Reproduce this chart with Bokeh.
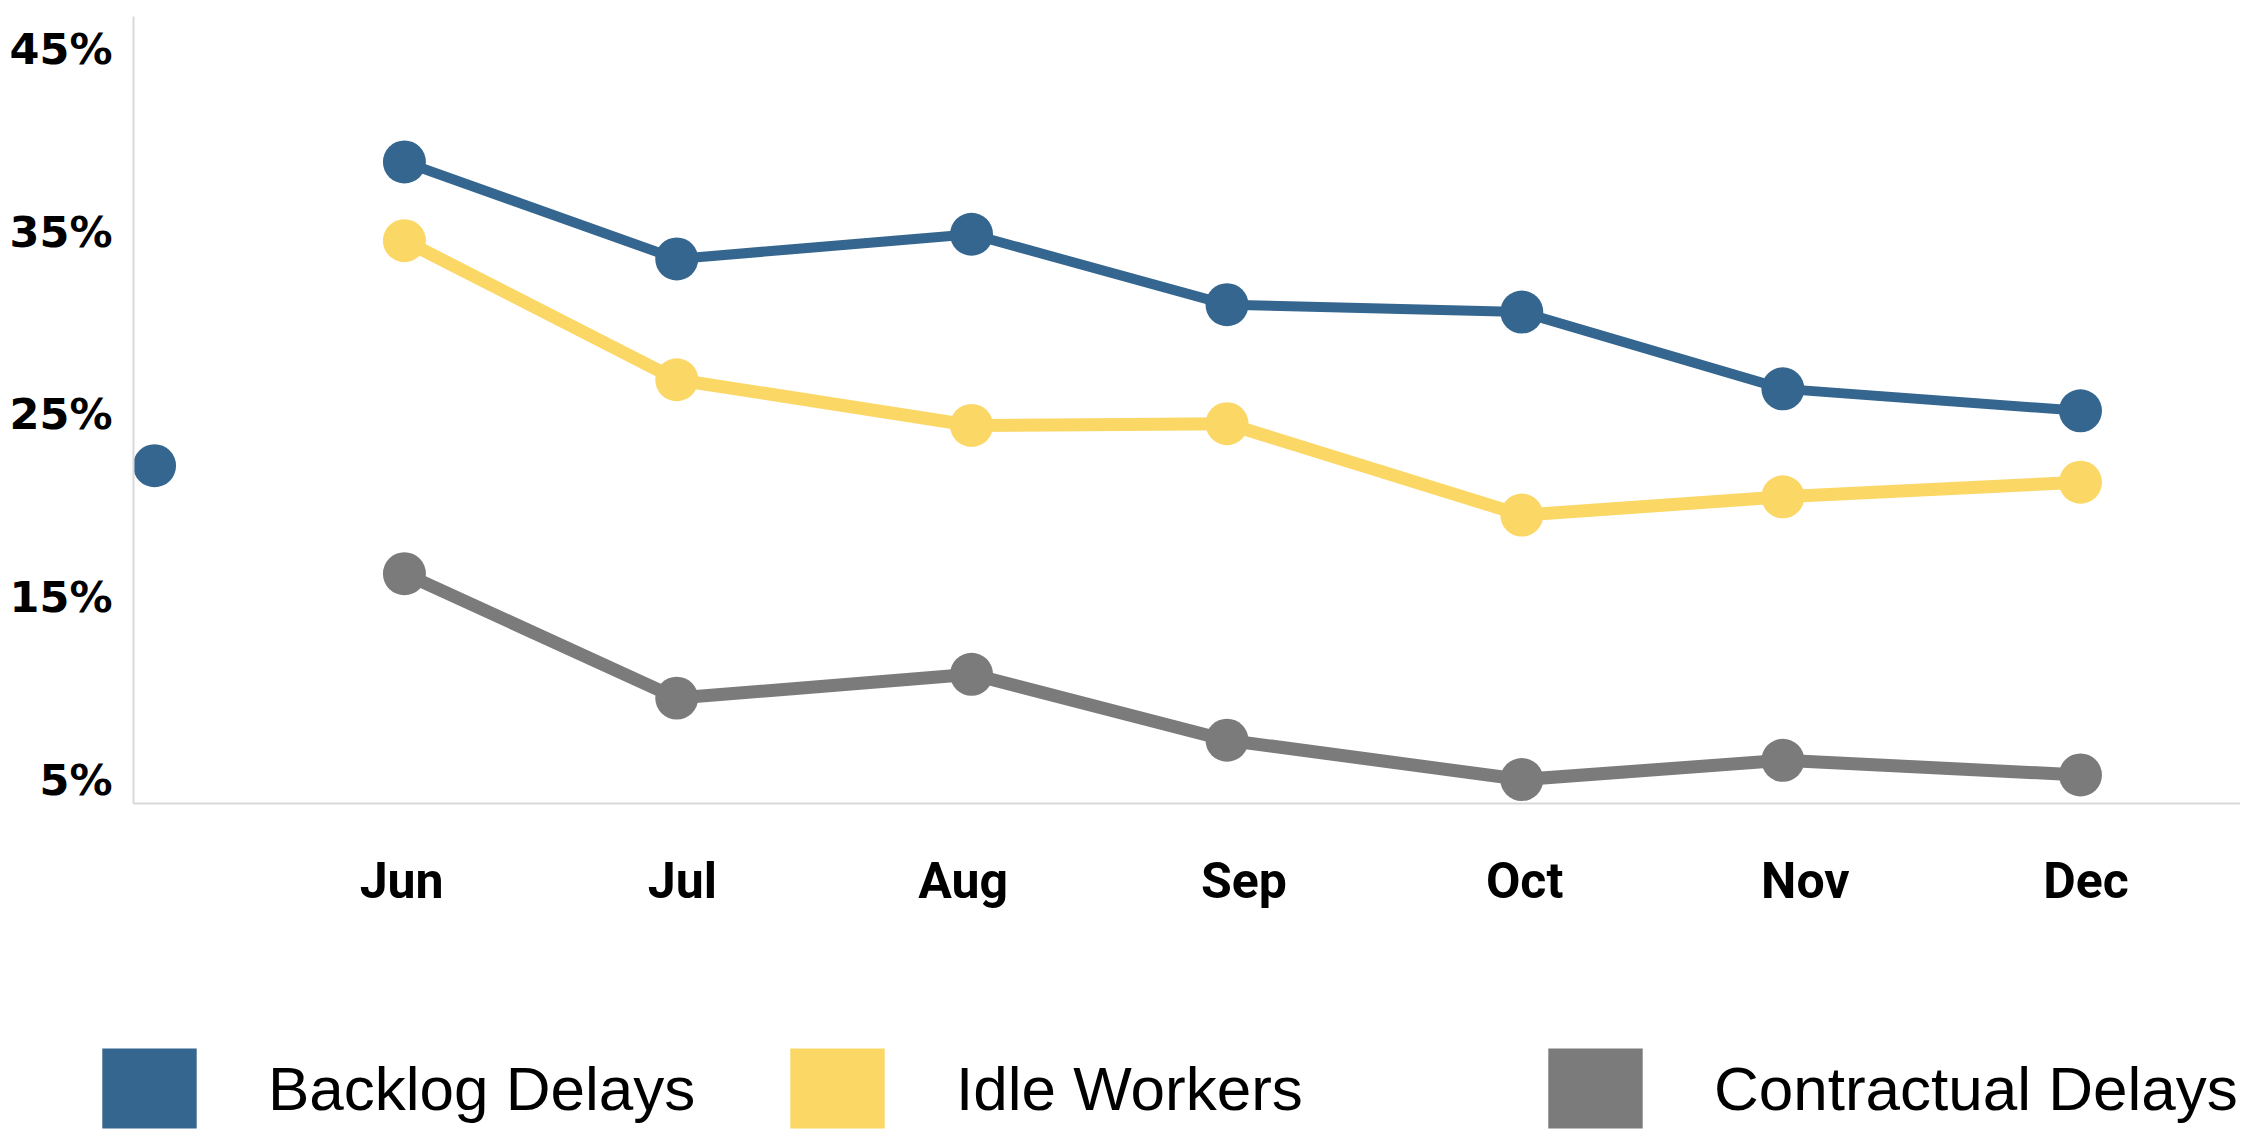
from bokeh.plotting import figure
from bokeh.models import Legend, LegendItem, FixedTicker, Range1d
from bokeh.embed import file_html
from bokeh.resources import INLINE

# ---- data ----
months = ["Jun", "Jul", "Aug", "Sep", "Oct", "Nov", "Dec"]
month_ticks = [0, 1, 2, 3, 4, 5, 6]
# x positions of observations (month units, Jun = 0); first entry is the lone May reading
obs_x = [-0.88, 0.01, 0.98, 2.03, 2.94, 3.99, 4.92, 5.98]
backlog = [22.2, 38.8, 33.5, 34.85, 31.0, 30.6, 26.4, 25.2]
idle_x = [0.01, 0.98, 2.03, 2.94, 3.99, 4.92, 5.98]
idle = [34.5, 26.9, 24.4, 24.5, 19.5, 20.5, 21.3]
contract_x = [0.01, 0.98, 2.03, 2.94, 3.99, 4.92, 5.98]
contract = [16.3, 9.5, 10.8, 7.2, 5.05, 6.1, 5.3]
y_ticks = [5, 15, 25, 35, 45]
y_labels = ["5%", "15%", "25%", "35%", "45%"]
series_names = ["Backlog Delays", "Idle Workers", "Contractual Delays"]

BLUE = "#35668f"
YELLOW = "#fbd766"
GRAY = "#7b7b7b"
AXIS = "#d9d9d9"

W = 2240

p = figure(width=W, height=1000, output_backend="svg", toolbar_location=None,
           x_range=Range1d(-0.955, 6.55), y_range=Range1d(3.74, 46.75),
           min_border_left=133, min_border_right=0, min_border_top=16,
           min_border_bottom=197)
p.outline_line_color = None
p.grid.visible = False

# lines
p.line(obs_x[1:], backlog[1:], line_color=BLUE, line_width=10)
p.line(idle_x, idle, line_color=YELLOW, line_width=13)
p.line(contract_x, contract, line_color=GRAY, line_width=13)
# markers
p.scatter(obs_x, backlog, size=43, fill_color=BLUE, line_color=None)
p.scatter(idle_x, idle, size=43, fill_color=YELLOW, line_color=None)
p.scatter(contract_x, contract, size=43, fill_color=GRAY, line_color=None)

# axes
p.xaxis.ticker = FixedTicker(ticks=month_ticks)
p.xaxis.major_label_overrides = {t: m for t, m in zip(month_ticks, months)}
p.yaxis.ticker = FixedTicker(ticks=y_ticks)
p.yaxis.major_label_overrides = {t: l for t, l in zip(y_ticks, y_labels)}
for ax in (p.xaxis, p.yaxis):
    ax.axis_line_color = AXIS
    ax.axis_line_width = 2
    ax.major_tick_line_color = None
    ax.minor_tick_line_color = None
p.xaxis.major_label_text_font = "Roboto"
p.xaxis.major_label_text_font_style = "bold"
p.xaxis.major_label_text_font_size = "50px"
p.xaxis.major_label_text_color = "#000000"
p.xaxis.major_label_standoff = 42
p.yaxis.major_label_text_font = "DejaVu Sans"
p.yaxis.major_label_text_font_style = "bold"
p.yaxis.major_label_text_font_size = "43px"
p.yaxis.major_label_text_color = "#000000"
p.yaxis.major_label_standoff = 15

# legend strip: separate root below the chart
pl = figure(width=W, height=134, output_backend="svg", toolbar_location=None,
            x_range=Range1d(0, 1), y_range=Range1d(0, 1),
            min_border_left=0, min_border_right=0, min_border_top=0, min_border_bottom=0)
pl.outline_line_color = None
pl.axis.visible = False
pl.grid.visible = False

swatch_colors = [BLUE, YELLOW, GRAY]
legend_x = [90, 778, 1536]
for name, col, lx in zip(series_names, swatch_colors, legend_x):
    # proxy renderer (outside the visible range) so the legend draws a filled swatch
    r = pl.quad(left=[2], right=[3], top=[3], bottom=[2], fill_color=col, line_color=None)
    leg = Legend(items=[LegendItem(label=name, renderers=[r])], location=(lx, -4),
                 glyph_width=118, glyph_height=100, label_standoff=60,
                 label_text_font="Liberation Sans", label_text_font_size="62px",
                 label_text_color="#000000", padding=0, margin=0,
                 border_line_color=None, background_fill_alpha=0)
    pl.add_layout(leg, "center")

open("out.html", "w").write(file_html([p, pl], INLINE))
